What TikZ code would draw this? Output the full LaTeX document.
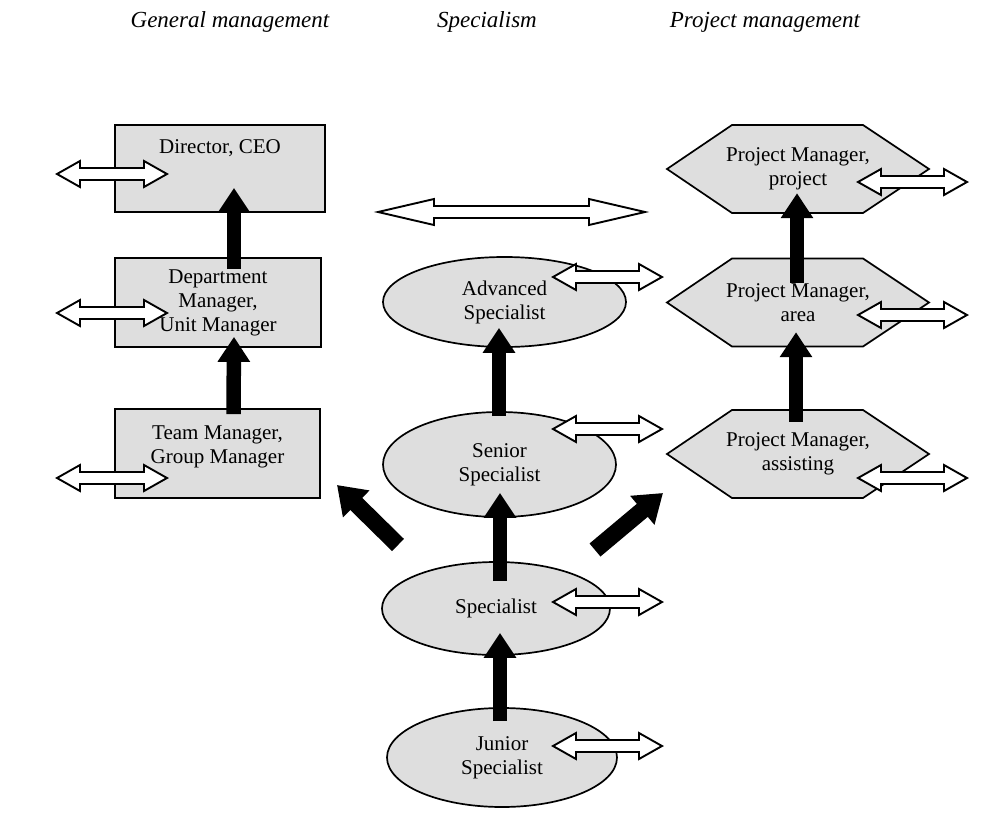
\documentclass[tikz,border=0pt]{standalone}
\usepackage{fontspec}
\setmainfont{Liberation Serif}
\usetikzlibrary{shapes.geometric,arrows.meta}
\pgfdeclarelayer{bg}
\pgfsetlayers{bg,main}
% white two-headed arrow: name, centre, half length, head length
\newcommand{\lateral}[4]{%
  \coordinate (#1) at #2;
  \path[swapshape] (#1) ++(-#3,0) -- ++(#4,-13) -- ++(0,7) -- ++({2*#3-2*#4},0)
    -- ++(0,-7) -- ++(#4,13) -- ++(-#4,13) -- ++(0,-7)
    -- ++({-(2*#3-2*#4)},0) -- ++(0,7) -- cycle;}
\begin{document}
\begin{tikzpicture}[x=1pt,y=-1pt,
  font=\fontsize{21}{24}\selectfont,
  every label/.style={align=center,inner sep=0pt},
  boxnode/.style={rectangle,draw,fill=black!13,line width=1.7pt,inner sep=0pt,align=center},
  ellnode/.style={ellipse,draw,fill=black!13,line width=1.7pt,inner sep=0pt,align=center},
  hexnode/.style={rectangle,inner sep=0pt,align=center,minimum width=262pt,minimum height=88pt},
  hexshape/.style={draw,fill=black!13,line width=1.7pt,line join=miter},
  title/.style={font=\fontsize{23}{26}\selectfont\itshape,inner sep=0pt,anchor=base},
  rise/.style={line width=14.5pt,-{Triangle[width=31pt,length=25pt]}},
  slant/.style={line width=17pt,-{Triangle[width=36pt,length=27pt]}},
  swapshape/.style={draw,fill=white,line width=1.9pt,line join=miter}]
\useasboundingbox (0,0) rectangle (999,814);

% column headings
\node[title] (hgen) at (230,27) {General management};
\node[title] (hspec) at (487,27) {Specialism};
\node[title] (hproj) at (765,27) {Project management};

% general management ladder
\node[boxnode,minimum width=210pt,minimum height=87pt,
  label={[anchor=north,yshift=-15pt]north:Director, CEO}] (dir) at (220,168.5) {};
\node[boxnode,minimum width=206pt,minimum height=89pt] (dept) at (218,302.5)
  {Department\\Manager,\\Unit Manager};
\node[boxnode,minimum width=205pt,minimum height=89pt,
  label={[yshift=7pt]center:Team Manager,\\Group Manager}] (team) at (217.5,453.5) {};

% specialist ladder
\node[ellnode,minimum width=243pt,minimum height=90pt] (adv) at (504.5,302) {Advanced\\Specialist};
\node[ellnode,minimum width=233pt,minimum height=105pt] (sen) at (499.5,464.5) {Senior\\Specialist};
\node[ellnode,minimum width=228pt,minimum height=93pt] (spec) at (496,608.5) {Specialist};
\node[ellnode,minimum width=230pt,minimum height=99pt] (jun) at (502,757.5) {Junior\\Specialist};

% project management ladder
\node[hexnode] (pmp) at (798,169) {Project Manager,\\project};
\node[hexnode] (pma) at (798,302.5) {Project Manager,\\area};
\node[hexnode] (pms) at (798,454) {Project Manager,\\assisting};
\begin{pgfonlayer}{bg}
  \foreach \c in {pmp,pma,pms}{
    \path[hexshape] (\c.center) ++(-131,0) -- ++(65,-44) -- ++(131,0) -- ++(66,44)
      -- ++(-66,44) -- ++(-131,0) -- cycle;
  }
\end{pgfonlayer}

% promotion arrows
\draw[rise] ([xshift=16pt,yshift=-6pt]team.north) -- ([xshift=16pt,yshift=11pt]dept.south);
\draw[rise] ([xshift=16pt,yshift=-12pt]dept.north) -- ([xshift=14pt,yshift=25pt]dir.south);
\draw[rise] ([xshift=-2pt,yshift=-14pt]jun.north) -- ([xshift=4pt,yshift=23pt]spec.south);
\draw[rise] ([xshift=4pt,yshift=-20pt]spec.north) -- ([xshift=0.5pt,yshift=25pt]sen.south);
\draw[rise] ([xshift=-0.5pt,yshift=-5pt]sen.north) -- ([xshift=-5.5pt,yshift=20pt]adv.south);
\draw[rise] ([xshift=-2pt,yshift=-12pt]pms.north) -- ([xshift=-2pt,yshift=14.5pt]pma.south);
\draw[rise] ([xshift=-1pt,yshift=-24.5pt]pma.north) -- ([xshift=-1pt,yshift=20pt]pmp.south);

% branching off the specialist ladder
\coordinate (toGenFrom) at (398,545);
\coordinate (toGenTo) at (337,485);
\coordinate (toProjFrom) at (595,550);
\coordinate (toProjTo) at (663,493);
\draw[slant] (toGenFrom) -- (toGenTo);
\draw[slant] (toProjFrom) -- (toProjTo);

% lateral moves
\lateral{sdir}{(112,174)}{55}{23}
\lateral{sdept}{(112,313)}{55}{23}
\lateral{steam}{(112,478)}{55}{23}
\lateral{sadv}{(607.5,277)}{54.5}{23}
\lateral{ssen}{(607.5,429)}{54.5}{23}
\lateral{sspec}{(607.5,602)}{54.5}{23}
\lateral{sjun}{(607.5,746)}{54.5}{23}
\lateral{spmp}{(912.5,182)}{54.5}{23}
\lateral{spma}{(912.5,315)}{54.5}{23}
\lateral{spms}{(912.5,478)}{54.5}{23}
\lateral{scross}{(511.5,212)}{133.5}{56}
\end{tikzpicture}
\end{document}
